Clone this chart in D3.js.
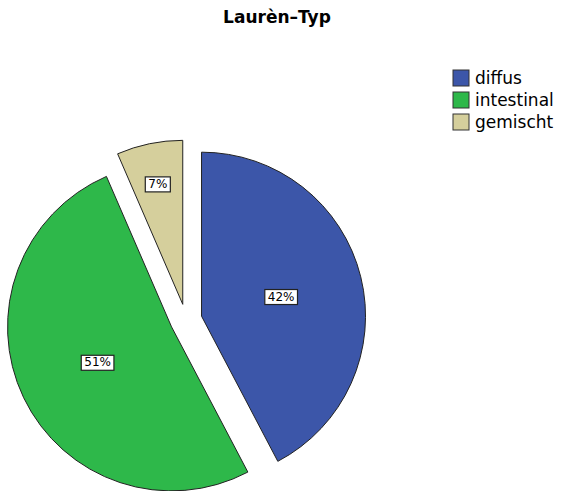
<!DOCTYPE html>
<html>
<head>
<meta charset="utf-8">
<script src="https://cdn.jsdelivr.net/npm/d3@7"></script>
<style>
body { margin: 0; background: #fff; }
text { font-family: "DejaVu Sans", sans-serif; }
</style>
</head>
<body>
<script>
var categories = ['diffus', 'intestinal', 'gemischt'];
var values = [42.3, 51.2, 6.5];
var colors = ['#3c56a9', '#2eb84a', '#d5cf9c'];

var W = 563, H = 491;
var svg = d3.select('body').append('svg').attr('width', W).attr('height', H);

svg.append('text')
    .attr('x', 277).attr('y', 23)
    .attr('text-anchor', 'middle')
    .style('font-size', '17px').style('font-weight', 'bold')
    .text('Laurèn\u2013Typ');

var r = 164, explode = 16;
var cx = 186, cy = 320;

var pie = d3.pie().sort(null).value(function (d) { return d; });
var arcs = pie(values);
var arc = d3.arc().innerRadius(0).outerRadius(r);
var total = d3.sum(values);

var g = svg.append('g').attr('transform', 'translate(' + cx + ',' + cy + ')');

var slice = g.selectAll('g.slice').data(arcs).enter().append('g')
    .attr('class', 'slice')
    .attr('transform', function (d) {
        var a = (d.startAngle + d.endAngle) / 2;
        return 'translate(' + (explode * Math.sin(a)) + ',' + (-explode * Math.cos(a)) + ')';
    });

slice.append('path')
    .attr('d', arc)
    .attr('fill', function (d, i) { return colors[i]; })
    .attr('stroke', '#222')
    .attr('stroke-width', 1);

slice.each(function (d) {
    var a = (d.startAngle + d.endAngle) / 2;
    var frac = d.value / total;
    var lr = frac < 0.1 ? r * 0.75 : r * 0.5;
    var x = lr * Math.sin(a), y = -lr * Math.cos(a);
    var txt = Math.round(frac * 100) + '%';
    var sel = d3.select(this);
    var t = sel.append('text')
        .attr('x', x).attr('y', y + 4)
        .attr('text-anchor', 'middle')
        .style('font-size', '12px')
        .text(txt);
    var bb = t.node().getBBox();
    sel.insert('rect', 'text')
        .attr('x', bb.x - 3).attr('y', bb.y)
        .attr('width', bb.width + 6).attr('height', bb.height + 1)
        .attr('fill', '#fff').attr('stroke', '#222').attr('stroke-width', 1.2);
});

var legend = svg.append('g').attr('transform', 'translate(453,70)');
var item = legend.selectAll('g').data(categories).enter().append('g')
    .attr('transform', function (d, i) { return 'translate(0,' + (i * 22) + ')'; });
item.append('rect')
    .attr('width', 16).attr('height', 16)
    .attr('fill', function (d, i) { return colors[i]; })
    .attr('stroke', '#333').attr('stroke-width', 1);
item.append('text')
    .attr('x', 22).attr('y', 14)
    .style('font-size', '17px')
    .text(function (d) { return d; });
</script>
</body>
</html>
